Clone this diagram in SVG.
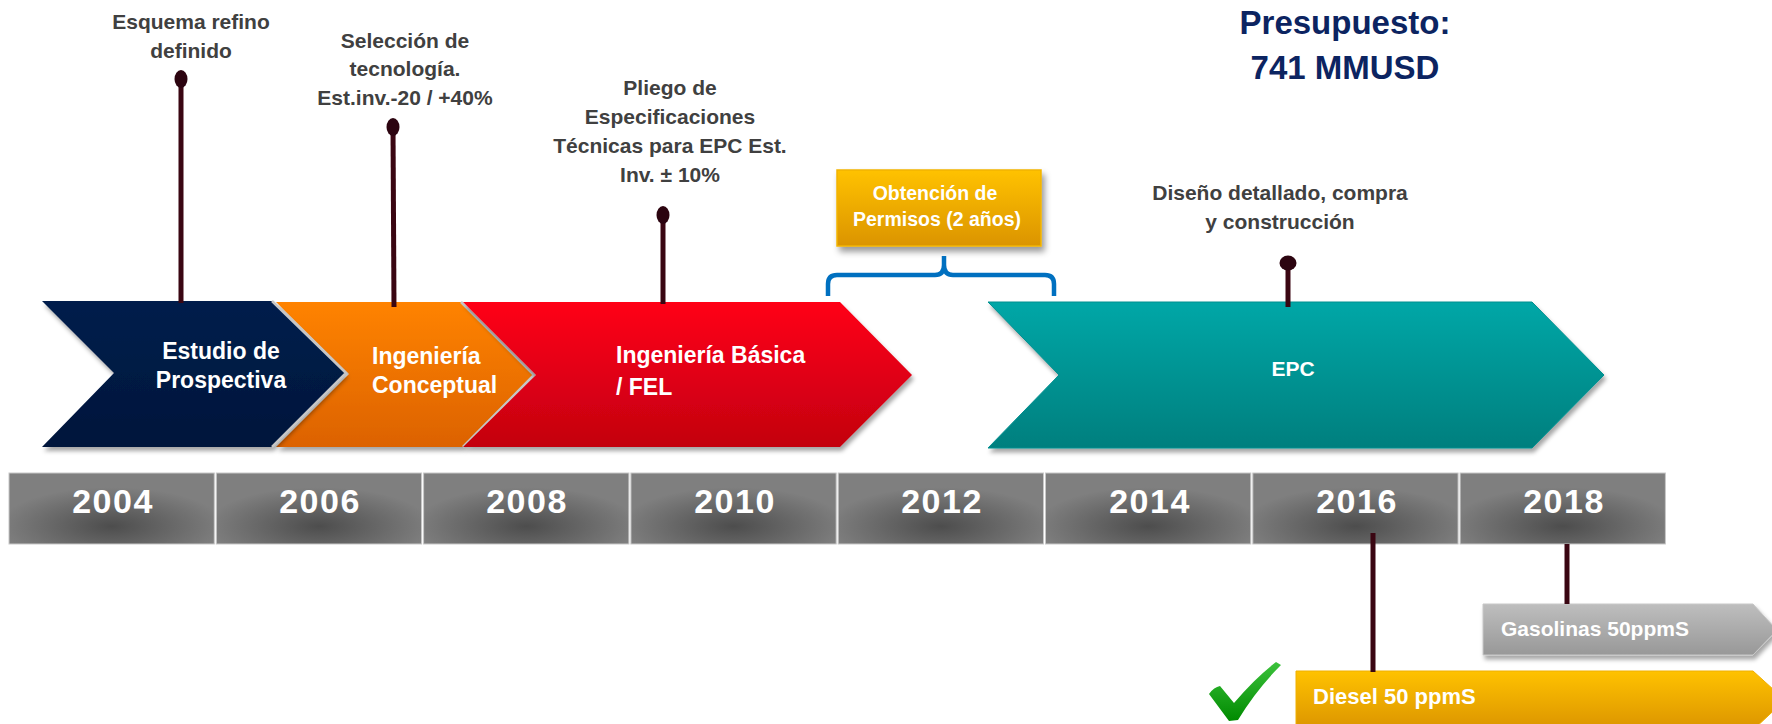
<svg xmlns="http://www.w3.org/2000/svg" width="1772" height="724" viewBox="0 0 1772 724">
<defs>
  <linearGradient id="gNavy" x1="0" y1="0" x2="0" y2="1"><stop offset="0" stop-color="#021e4c"/><stop offset="1" stop-color="#00163b"/></linearGradient>
  <linearGradient id="gOrange" x1="0" y1="0" x2="0" y2="1"><stop offset="0" stop-color="#ff8300"/><stop offset="1" stop-color="#dc6200"/></linearGradient>
  <linearGradient id="gRed" x1="0" y1="0" x2="0" y2="1"><stop offset="0" stop-color="#ff0019"/><stop offset="1" stop-color="#c3000f"/></linearGradient>
  <linearGradient id="gTeal" x1="0" y1="0" x2="0" y2="1"><stop offset="0" stop-color="#00a7a7"/><stop offset="1" stop-color="#007f7e"/></linearGradient>
  <linearGradient id="gGold" x1="0" y1="0" x2="0" y2="1"><stop offset="0" stop-color="#ffc200"/><stop offset="1" stop-color="#db9400"/></linearGradient>
  <linearGradient id="gGray" x1="0" y1="0" x2="0" y2="1"><stop offset="0" stop-color="#bebebe"/><stop offset="1" stop-color="#989898"/></linearGradient>
  <linearGradient id="gCheck" x1="0" y1="0" x2="0" y2="1"><stop offset="0" stop-color="#3cc23c"/><stop offset="1" stop-color="#008a00"/></linearGradient>
  <radialGradient id="gYear" cx="0.5" cy="0.75" r="0.55"><stop offset="0" stop-color="#4d4d4d"/><stop offset="1" stop-color="#7f7f7f"/></radialGradient>
  <filter id="shadow" x="-10%" y="-10%" width="130%" height="140%"><feDropShadow dx="2" dy="4" stdDeviation="2" flood-color="#000" flood-opacity="0.35"/></filter>
  <filter id="shadowBox" x="-10%" y="-10%" width="130%" height="150%"><feDropShadow dx="3" dy="5" stdDeviation="3" flood-color="#000" flood-opacity="0.4"/></filter>
</defs>
<style>
  text{font-family:"Liberation Sans",Arial,sans-serif;font-weight:bold}
  .lbl{font-size:21px;fill:#404040;text-anchor:middle}
  .head{font-size:33px;fill:#0c2461;text-anchor:middle}
  .stg{font-size:23px;fill:#ffffff}
  .mid{text-anchor:middle}
  .yr{font-size:34px;fill:#ffffff;text-anchor:middle;letter-spacing:1.5px}
  .box{font-size:19.5px;fill:#ffffff;text-anchor:middle}
  .pin{stroke:#3a0612;stroke-width:5;fill:none}
  .pinhead{fill:#2c0410}
  .edge{fill:none;stroke:#c6c6c6;stroke-width:2.5}
  .yrbox{fill:url(#gYear);stroke:#c8c8c8;stroke-width:1}
</style>

<!-- Top labels -->
<g id="label-esquema">
  <text class="lbl" x="191" y="29">Esquema refino</text>
  <text class="lbl" x="191" y="58">definido</text>
</g>
<g id="label-seleccion">
  <text class="lbl" x="405" y="48">Selección de</text>
  <text class="lbl" x="405" y="76">tecnología.</text>
  <text class="lbl" x="405" y="105">Est.inv.-20 / +40%</text>
</g>
<g id="label-pliego">
  <text class="lbl" x="670" y="95">Pliego de</text>
  <text class="lbl" x="670" y="124">Especificaciones</text>
  <text class="lbl" x="670" y="153">Técnicas para EPC Est.</text>
  <text class="lbl" x="670" y="182">Inv. ± 10%</text>
</g>
<g id="label-diseno">
  <text class="lbl" x="1280" y="200">Diseño detallado, compra</text>
  <text class="lbl" x="1280" y="229">y construcción</text>
</g>
<g id="label-presupuesto">
  <text class="head" x="1345" y="34">Presupuesto:</text>
  <text class="head" x="1345" y="79">741 MMUSD</text>
</g>

<!-- Permisos box -->
<g id="permisos">
  <rect x="837" y="170" width="204" height="76" fill="url(#gGold)" stroke="#f2b400" stroke-width="1.5" filter="url(#shadowBox)"/>
  <text class="box" x="935" y="200">Obtención de</text>
  <text class="box" x="937" y="226">Permisos (2 años)</text>
</g>

<!-- Stage chevrons -->
<g id="stage-orange">
  <path d="M276,302 H461 L534,375 L463,447 H276 L349,374 Z" fill="url(#gOrange)" filter="url(#shadow)"/>
  <polyline class="edge" points="461,302 534,375 463,447"/>
  <text class="stg" x="372" y="364">Ingeniería</text>
  <text class="stg" x="372" y="393">Conceptual</text>
</g>
<g id="stage-navy">
  <path d="M42,301 H272 L346,373 L272,447 H42 L114,373 Z" fill="url(#gNavy)" filter="url(#shadow)"/>
  <polyline class="edge" points="272,301 346,373 272,447"/>
  <text class="stg mid" x="221" y="359">Estudio de</text>
  <text class="stg mid" x="221" y="388">Prospectiva</text>
</g>
<g id="stage-red">
  <path d="M463,302 H840 L912,375 L840,447 H463 L536,375 Z" fill="url(#gRed)" filter="url(#shadow)"/>
  <text class="stg" x="616" y="363">Ingeniería Básica</text>
  <text class="stg" x="616" y="395">/ FEL</text>
</g>
<g id="stage-epc">
  <path d="M988,302 H1532 L1604,375 L1532,448 H988 L1059,375 Z" fill="url(#gTeal)" stroke="#009090" stroke-width="1" filter="url(#shadow)"/>
  <text class="stg mid" x="1293" y="376" style="font-size:21px">EPC</text>
</g>

<!-- Year bar -->
<g id="years">
  <rect class="yrbox" x="9" y="473" width="205.3" height="71"/>
  <rect class="yrbox" x="216.3" y="473" width="205.3" height="71"/>
  <rect class="yrbox" x="423.6" y="473" width="205.3" height="71"/>
  <rect class="yrbox" x="630.9" y="473" width="205.3" height="71"/>
  <rect class="yrbox" x="838.2" y="473" width="205.3" height="71"/>
  <rect class="yrbox" x="1045.5" y="473" width="205.3" height="71"/>
  <rect class="yrbox" x="1252.8" y="473" width="205.3" height="71"/>
  <rect class="yrbox" x="1460.1" y="473" width="205.3" height="71"/>
  <text class="yr" x="113" y="513">2004</text>
  <text class="yr" x="320" y="513">2006</text>
  <text class="yr" x="527" y="513">2008</text>
  <text class="yr" x="735" y="513">2010</text>
  <text class="yr" x="942" y="513">2012</text>
  <text class="yr" x="1150" y="513">2014</text>
  <text class="yr" x="1357" y="513">2016</text>
  <text class="yr" x="1564" y="513">2018</text>
</g>

<!-- Product arrows -->
<g id="gasolinas">
  <path d="M1483,604 H1753 L1777,630 L1753,655 H1483 Z" fill="url(#gGray)" stroke="#c8c8c8" stroke-width="1" filter="url(#shadow)"/>
  <text class="stg" x="1501" y="636" style="font-size:21px">Gasolinas 50ppmS</text>
</g>
<g id="diesel">
  <path d="M1296,671 H1753 L1785,700 L1753,730 H1296 Z" fill="url(#gGold)" stroke="#f0b000" stroke-width="1"/>
  <text class="stg" x="1313" y="704" style="font-size:22px">Diesel 50 ppmS</text>
</g>
<g id="check">
  <path d="M1209,694 Q1214,687 1220,686 L1234,703 Q1255,678 1276,662 L1281,665 Q1256,690 1238,720 L1229,721 Z" fill="url(#gCheck)"/>
</g>

<!-- Connectors: pins and brace -->
<g id="connectors">
  <line class="pin" x1="181" y1="80" x2="181" y2="303"/>
  <ellipse class="pinhead" cx="181" cy="79" rx="6.5" ry="9"/>
  <line class="pin" x1="393" y1="128" x2="394" y2="307"/>
  <ellipse class="pinhead" cx="393" cy="127" rx="6.5" ry="9"/>
  <line class="pin" x1="663" y1="216" x2="663" y2="304"/>
  <ellipse class="pinhead" cx="663" cy="215" rx="6.5" ry="9"/>
  <line class="pin" x1="1288" y1="264" x2="1288" y2="307"/>
  <ellipse class="pinhead" cx="1288" cy="263" rx="8.5" ry="7.5"/>
  <line class="pin" x1="1373" y1="533" x2="1373" y2="672"/>
  <line class="pin" x1="1567" y1="544" x2="1567" y2="604"/>
  <path d="M828,296 V284 Q828,275 837,275 H935 Q944,275 944,265 V256 M944,265 Q944,275 953,275 H1045 Q1054,275 1054,284 V296" fill="none" stroke="#0070c0" stroke-width="4.5"/>
</g>
</svg>
